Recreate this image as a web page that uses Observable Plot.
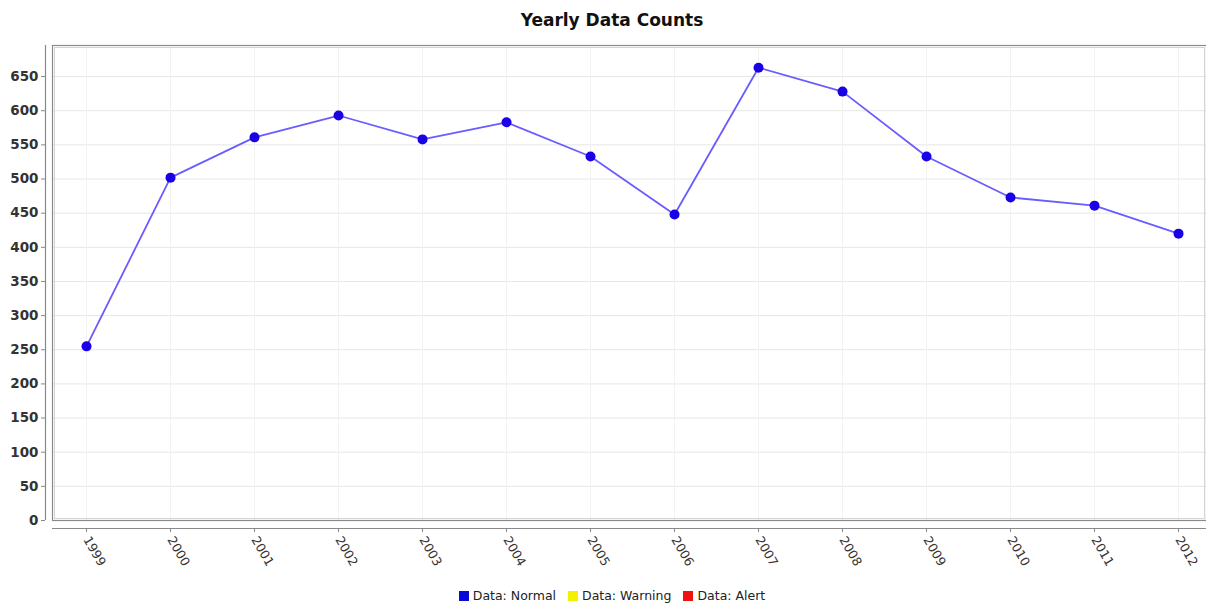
<!DOCTYPE html>
<html>
<head>
<meta charset="utf-8">
<script src="https://cdn.jsdelivr.net/npm/d3@7"></script>
<script src="https://cdn.jsdelivr.net/npm/@observablehq/plot@0.6"></script>
<style>
  html, body { margin: 0; padding: 0; background: #fff; }
  body { width: 1206px; height: 604px; overflow: hidden; font-family: "DejaVu Sans", sans-serif; }
  #title { height: 40px; line-height: 40px; text-align: center; font-weight: bold; font-size: 17px; color: #111; padding-left: 18px; box-sizing: border-box; }
  #legend { height: 24px; display: flex; justify-content: center; align-items: center; font-size: 12.5px; color: #222; padding-left: 18px; padding-top: 6px; box-sizing: border-box; gap: 12px; }
  #legend span.sw { display: inline-block; width: 10px; height: 10px; margin-right: 4px; vertical-align: -1px; }
</style>
</head>
<body>
<div id="title">Yearly Data Counts</div>
<div id="chart"></div>
<div id="legend"></div>
<script>
const years = [1999, 2000, 2001, 2002, 2003, 2004, 2005, 2006, 2007, 2008, 2009, 2010, 2011, 2012];
const counts = [255, 502, 561, 593, 558, 583, 533, 448, 663, 628, 533, 473, 461, 420];
const yTicks = [0, 50, 100, 150, 200, 250, 300, 350, 400, 450, 500, 550, 600, 650];
const legendLabels = ["Data: Normal", "Data: Warning", "Data: Alert"];
const legendColors = ["#0a0ad8", "#f2f200", "#ee1111"];

const data = years.map((y, i) => ({year: y, count: counts[i]}));
const xDomain = [1998.595, 2012.333];

const chart = Plot.plot({
  width: 1206,
  height: 540,
  marginLeft: 52,
  marginRight: 0,
  marginTop: 5,
  marginBottom: 60,
  style: {fontFamily: "DejaVu Sans, sans-serif", background: "#fff"},
  x: {domain: xDomain, label: null},
  y: {domain: [0, 695.5], label: null},
  marks: [
    Plot.gridY(yTicks, {stroke: "#e6e6e6", strokeOpacity: 1}),
    Plot.gridX(years, {stroke: "#f2f2f2", strokeOpacity: 1}),
    Plot.frame({stroke: "#8a8a8a", strokeWidth: 1.2}),
    Plot.frame({stroke: "#d4d4d4", inset: 2}),
    Plot.ruleX([xDomain[0]], {dx: -7, stroke: "#8a8a8a", strokeWidth: 1.2}),
    Plot.ruleY([0], {dy: 8, stroke: "#8a8a8a", strokeWidth: 1.2}),
    Plot.axisY(yTicks, {dx: -7, tickSize: 4, tickPadding: 3, fontSize: 13.5, fontWeight: "bold", fill: "#333", stroke: "#888", tickFormat: d => String(d)}),
    Plot.axisX(years, {dy: 8, tickSize: 4, tickPadding: 5, tickRotate: 60, fontSize: 12.5, fill: "#333", stroke: "#888", tickFormat: d => String(d)}),
    Plot.line(data, {x: "year", y: "count", stroke: "#6a5cff", strokeWidth: 1.8}),
    Plot.dot(data, {x: "year", y: "count", r: 5, fill: "#1a00e6", stroke: "none"})
  ]
});
document.getElementById("chart").appendChild(chart);

const legend = document.getElementById("legend");
legendLabels.forEach((lab, i) => {
  const item = document.createElement("span");
  const sw = document.createElement("span");
  sw.className = "sw";
  sw.style.background = legendColors[i];
  item.appendChild(sw);
  item.appendChild(document.createTextNode(lab));
  legend.appendChild(item);
});
</script>
</body>
</html>
